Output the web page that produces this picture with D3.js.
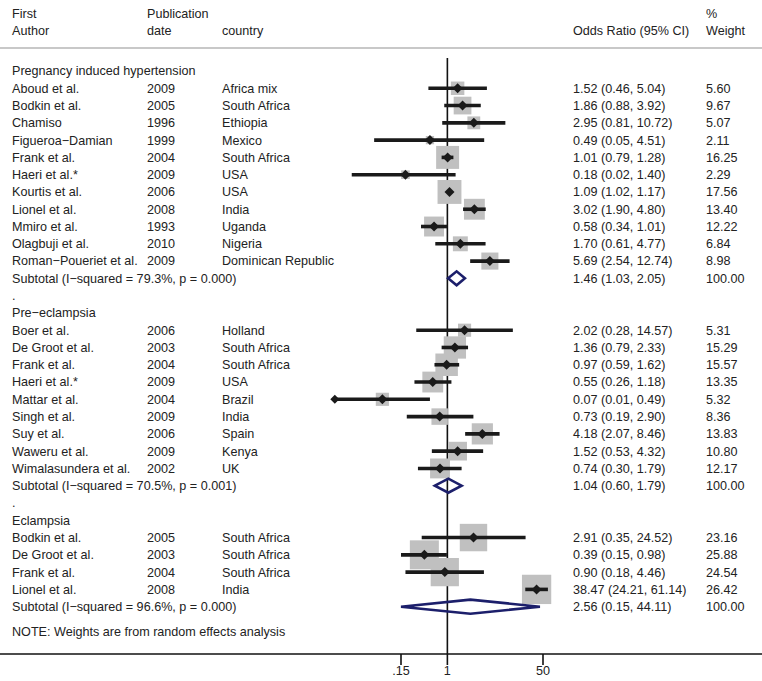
<!DOCTYPE html>
<html>
<head>
<meta charset="utf-8">
<script src="https://cdn.jsdelivr.net/npm/d3@7/dist/d3.min.js"></script>
<style>
  html, body { margin: 0; padding: 0; background: #fff; }
  svg text { font-family: "Liberation Sans", Arial, sans-serif; font-size: 12.6px; fill: #222; }
</style>
</head>
<body>
<svg id="chart" width="762" height="681"></svg>
<script>
// ---- data ----
const groups = ["Pregnancy induced hypertension", "Pre\u2212eclampsia", "Eclampsia"];

const pihStudies = [
  ["Aboud et al.", "2009", "Africa mix", 1.52, 0.46, 5.04, 5.60],
  ["Bodkin et al.", "2005", "South Africa", 1.86, 0.88, 3.92, 9.67],
  ["Chamiso", "1996", "Ethiopia", 2.95, 0.81, 10.72, 5.07],
  ["Figueroa\u2212Damian", "1999", "Mexico", 0.49, 0.05, 4.51, 2.11],
  ["Frank et al.", "2004", "South Africa", 1.01, 0.79, 1.28, 16.25],
  ["Haeri et al.*", "2009", "USA", 0.18, 0.02, 1.40, 2.29],
  ["Kourtis et al.", "2006", "USA", 1.09, 1.02, 1.17, 17.56],
  ["Lionel et al.", "2008", "India", 3.02, 1.90, 4.80, 13.40],
  ["Mmiro et al.", "1993", "Uganda", 0.58, 0.34, 1.01, 12.22],
  ["Olagbuji et al.", "2010", "Nigeria", 1.70, 0.61, 4.77, 6.84],
  ["Roman\u2212Poueriet et al.", "2009", "Dominican Republic", 5.69, 2.54, 12.74, 8.98]
];
const peStudies = [
  ["Boer et al.", "2006", "Holland", 2.02, 0.28, 14.57, 5.31],
  ["De Groot et al.", "2003", "South Africa", 1.36, 0.79, 2.33, 15.29],
  ["Frank et al.", "2004", "South Africa", 0.97, 0.59, 1.62, 15.57],
  ["Haeri et al.*", "2009", "USA", 0.55, 0.26, 1.18, 13.35],
  ["Mattar et al.", "2004", "Brazil", 0.07, 0.01, 0.49, 5.32],
  ["Singh et al.", "2009", "India", 0.73, 0.19, 2.90, 8.36],
  ["Suy et al.", "2006", "Spain", 4.18, 2.07, 8.46, 13.83],
  ["Waweru et al.", "2009", "Kenya", 1.52, 0.53, 4.32, 10.80],
  ["Wimalasundera et al.", "2002", "UK", 0.74, 0.30, 1.79, 12.17]
];
const eclStudies = [
  ["Bodkin et al.", "2005", "South Africa", 2.91, 0.35, 24.52, 23.16],
  ["De Groot et al.", "2003", "South Africa", 0.39, 0.15, 0.98, 25.88],
  ["Frank et al.", "2004", "South Africa", 0.90, 0.18, 4.46, 24.54],
  ["Lionel et al.", "2008", "India", 38.47, 24.21, 61.14, 26.42]
];
const subtotals = [
  ["Subtotal  (I\u2212squared = 79.3%, p = 0.000)", 1.46, 1.03, 2.05, 100.00],
  ["Subtotal  (I\u2212squared = 70.5%, p = 0.001)", 1.04, 0.60, 1.79, 100.00],
  ["Subtotal  (I\u2212squared = 96.6%, p = 0.000)", 2.56, 0.15, 44.11, 100.00]
];
const tickValues = [0.15, 1, 50];
const tickLabels = [".15", "1", "50"];
const clipMin = 0.01;
const noteText = "NOTE: Weights are from random effects analysis";

// ---- layout ----
const svg = d3.select("#chart");
const W = 762;
const x = d3.scaleLog().domain([0.15, 50]).range([401, 543]);
const row0 = 71, rowH = 17.28;
const rowY = i => row0 + rowH * i;
const col = { author: 12, date: 147, country: 222, or: 573, wt: 706 };
const axisY = 654;
const boxK = 5.7;
const fmt = d3.format(".2f");

// build row list
const rows = [];
const studySets = [pihStudies, peStudies, eclStudies];
groups.forEach((g, gi) => {
  rows.push({ type: "header", label: g });
  studySets[gi].forEach(s => rows.push({ type: "study", author: s[0], date: s[1], country: s[2], or: s[3], lo: s[4], hi: s[5], w: s[6] }));
  const st = subtotals[gi];
  rows.push({ type: "subtotal", label: st[0], or: st[1], lo: st[2], hi: st[3], w: st[4] });
  if (gi < groups.length - 1) rows.push({ type: "dot" });
});
rows.forEach((r, i) => r.y = rowY(i));
const lastY = rows[rows.length - 1].y;
rows.push({ type: "note", label: noteText, y: lastY + 25 });

// header texts
const hdr = svg.append("g");
[["First", col.author, 14], ["Author", col.author, 31], ["Publication", col.date, 14], ["date", col.date, 31],
 ["country", col.country, 31], ["Odds Ratio (95% CI)", col.or, 31], ["%", col.wt, 14], ["Weight", col.wt, 31]]
  .forEach(d => hdr.append("text").attr("x", d[1]).attr("y", d[2]).attr("dy", "0.35em").text(d[0]));

// separator
svg.append("line").attr("x1", 0).attr("x2", W).attr("y1", 48).attr("y2", 48)
  .attr("stroke", "#c8c8c8").attr("stroke-width", 2);

// reference line at 1
svg.append("line").attr("x1", x(1)).attr("x2", x(1)).attr("y1", 58).attr("y2", axisY)
  .attr("stroke", "#111").attr("stroke-width", 1.6);

const plot = svg.append("g");
const txt = svg.append("g");

rows.forEach(r => {
  if (r.type === "header" || r.type === "note") {
    txt.append("text").attr("x", col.author).attr("y", r.y).attr("dy", "0.35em").text(r.label);
  } else if (r.type === "dot") {
    txt.append("text").attr("x", col.author).attr("y", r.y).attr("dy", "0.35em").text(".");
  } else if (r.type === "study") {
    txt.append("text").attr("x", col.author).attr("y", r.y).attr("dy", "0.35em").text(r.author);
    txt.append("text").attr("x", col.date).attr("y", r.y).attr("dy", "0.35em").text(r.date);
    txt.append("text").attr("x", col.country).attr("y", r.y).attr("dy", "0.35em").text(r.country);
    txt.append("text").attr("x", col.or).attr("y", r.y).attr("dy", "0.35em")
      .text(`${fmt(r.or)} (${fmt(r.lo)}, ${fmt(r.hi)})`);
    txt.append("text").attr("x", col.wt).attr("y", r.y).attr("dy", "0.35em").text(fmt(r.w));
    const s = boxK * Math.sqrt(r.w);
    plot.append("rect").attr("x", x(r.or) - s / 2).attr("y", r.y - s / 2).attr("width", s).attr("height", s)
      .attr("fill", "#c0c0c0");
  } else if (r.type === "subtotal") {
    txt.append("text").attr("x", col.author).attr("y", r.y).attr("dy", "0.35em").text(r.label);
    txt.append("text").attr("x", col.or).attr("y", r.y).attr("dy", "0.35em")
      .text(`${fmt(r.or)} (${fmt(r.lo)}, ${fmt(r.hi)})`);
    txt.append("text").attr("x", col.wt).attr("y", r.y).attr("dy", "0.35em").text(fmt(r.w));
  }
});

// CI lines and point markers
const marks = svg.append("g");
const diamond = (cx, cy, h) => `M${cx - h},${cy}L${cx},${cy - h}L${cx + h},${cy}L${cx},${cy + h}Z`;
rows.filter(r => r.type === "study").forEach(r => {
  marks.append("line").attr("x1", x(r.lo)).attr("x2", x(r.hi)).attr("y1", r.y).attr("y2", r.y)
    .attr("stroke", "#1a1a1a").attr("stroke-width", 3.6);
  marks.append("path").attr("d", diamond(x(r.or), r.y, 5)).attr("fill", "#1a1a1a");
  if (r.lo <= clipMin) {
    marks.append("path").attr("d", diamond(x(r.lo), r.y, 4.5)).attr("fill", "#1a1a1a");
  }
});
rows.filter(r => r.type === "subtotal").forEach(r => {
  const h = 7;
  marks.append("path")
    .attr("d", `M${x(r.lo)},${r.y}L${x(r.or)},${r.y - h}L${x(r.hi)},${r.y}L${x(r.or)},${r.y + h}Z`)
    .attr("fill", "none").attr("stroke", "#1c1f6b").attr("stroke-width", 2.6).attr("stroke-linejoin", "miter");
});

// axis
svg.append("line").attr("x1", 0).attr("x2", W).attr("y1", axisY).attr("y2", axisY)
  .attr("stroke", "#111").attr("stroke-width", 1.6);
const ax = svg.append("g");
tickValues.forEach((t, i) => {
  ax.append("line").attr("x1", x(t)).attr("x2", x(t)).attr("y1", axisY).attr("y2", axisY + 11)
    .attr("stroke", "#111").attr("stroke-width", 1.6);
  ax.append("text").attr("x", x(t)).attr("y", axisY + 17).attr("dy", "0.35em")
    .attr("text-anchor", "middle").text(tickLabels[i]);
});
</script>
</body>
</html>
